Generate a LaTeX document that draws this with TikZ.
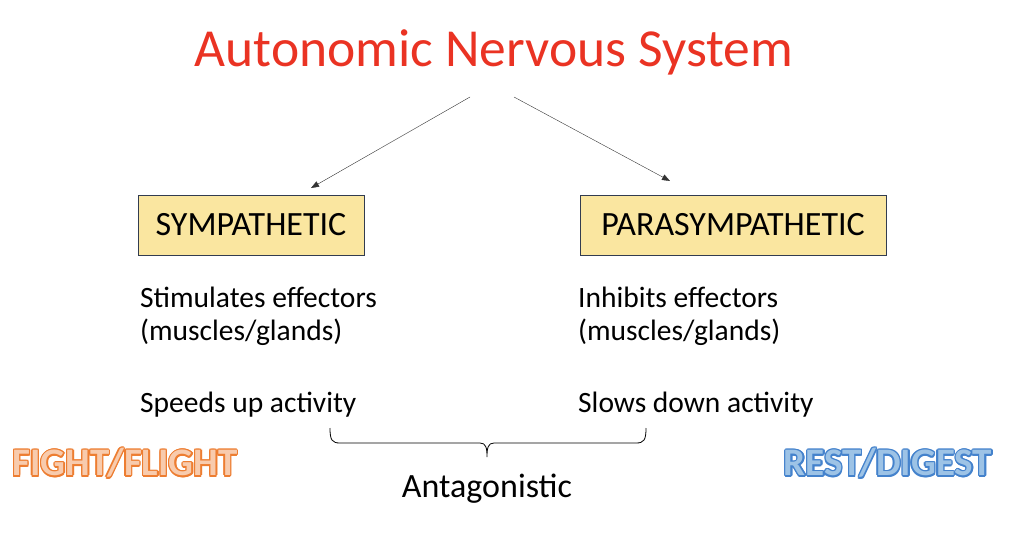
\documentclass[tikz,border=0pt]{standalone}
\usepackage{fontspec}
\setmainfont{Carlito}
\usetikzlibrary{arrows.meta,calc}
\definecolor{titlered}{RGB}{234,51,35}
\definecolor{boxfill}{RGB}{250,230,160}
\definecolor{boxline}{RGB}{50,60,80}
\definecolor{orfill}{RGB}{248,203,173}
\definecolor{orline}{RGB}{237,125,49}
\definecolor{blfill}{RGB}{157,195,230}
\definecolor{blline}{RGB}{68,130,204}
\begin{document}
\begin{tikzpicture}[x=1pt,y=-1pt,
  box/.style={draw=boxline,fill=boxfill,line width=0.8pt,font=\fontsize{34}{40}\selectfont,minimum height=60pt,inner sep=0pt},
  body/.style={anchor=west,font=\fontsize{29.5}{34}\selectfont,inner sep=0pt},
  arr/.style={-{Triangle[length=8pt,width=6pt]},line width=0.4pt,draw=black!80},
  big/.style={font=\bfseries\fontsize{39}{44}\selectfont}]
\useasboundingbox (0,0) rectangle (1018,542);
\node[text=titlered,font=\fontsize{53.5}{60}\selectfont] (title) at (494,52) {Autonomic Nervous System};
\coordinate (s1) at (470,97);
\coordinate (s2) at (514,97);
\node[box,minimum width=226pt] (sym) at (251,225) {SYMPATHETIC};
\node[box,minimum width=306pt] (para) at (733,225) {PARASYMPATHETIC};
\coordinate (e1) at (311,188);
\coordinate (e2) at (670,181);
\draw[arr] (s1) -- (e1);
\draw[arr] (s2) -- (e2);
\node[body] (l1) at (140,297) {Stimulates effectors};
\node[body] (l2) at (140,332) {(muscles/glands)};
\node[body] (l3) at (140,405) {Speeds up activity};
\node[body] (r1) at (578,297) {Inhibits effectors};
\node[body] (r2) at (578,332) {(muscles/glands)};
\node[body] (r3) at (578,405) {Slows down activity};
\coordinate (b1) at (330,428);
\coordinate (b2) at (646,428);
\coordinate (bt) at (487,457);
\draw[line width=0.8pt] (b1) .. controls (330,440) and (332,443) .. (340,443) -- (480,443) .. controls (486,443) and (487,448) .. (bt)
  .. controls (487,448) and (488,443) .. (494,443) -- (636,443) .. controls (644,443) and (646,440) .. (b2);
\node[font=\fontsize{34}{40}\selectfont] (ant) at (487,489) {Antagonistic};
\foreach \a in {0,30,...,330}{
  \node[big,text=orline] at ($(125,463)+(\a:1.4)$) {FIGHT/FLIGHT};
  \node[big,text=blline] at ($(888,463)+(\a:1.4)$) {REST/DIGEST};
}
\node[big,text=orfill] (ff) at (125,463) {FIGHT/FLIGHT};
\node[big,text=blfill] (rd) at (888,463) {REST/DIGEST};
\end{tikzpicture}
\end{document}
